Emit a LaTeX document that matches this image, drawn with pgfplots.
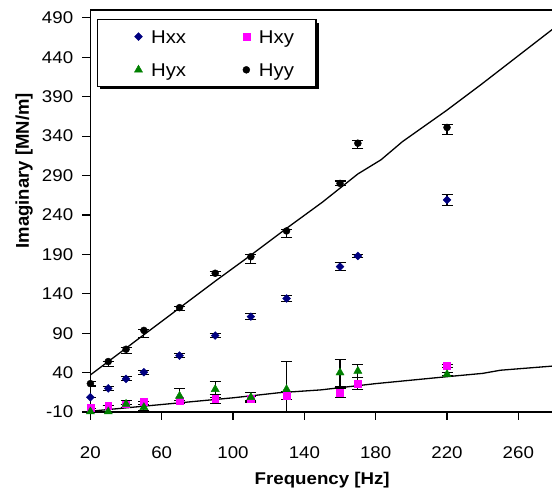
\documentclass[border=0pt]{standalone}
\usepackage{fontspec}
\setmainfont{Liberation Sans}[FakeStretch=1.1]
\newfontfamily\plainsans{Liberation Sans}
\usepackage{pgfplots}
\usepackage{pgfplotstable}
\pgfplotsset{compat=1.18}
\usetikzlibrary{shadows}
\definecolor{navyc}{RGB}{0,0,128}
\definecolor{magc}{RGB}{255,0,255}
\definecolor{greenc}{RGB}{0,128,0}

\pgfplotstableread{
x y ep em
20 8.7 0 0
30 20 2.5 2.5
40 32 2.5 2.5
50 40.5 2.5 2.5
70 61.5 2.5 2.5
90 87 2.5 2.5
110 111 3.8 3.8
130 134 4 4
160 174.5 5 5
170 188 1.5 1.5
220 259 6.7 6.7
}\hxx

\pgfplotstableread{
x y ep em
20 -5 0 0
30 -2 0 0
40 0 0 0
50 3 0 0
70 4.3 0 0
90 6.5 5.5 5.5
110 7 3 3
130 10.5 5 5
160 14.5 6 6
170 26.4 7.5 7.5
220 48.6 2 2
}\hxy

\pgfplotstableread{
x y ep em
20 -9.5 0 0
30 -9.5 0 0
40 0.2 4 4
50 -4 4 4
70 10.3 10 10
90 18.8 10 10
110 8.7 6.3 6.3
130 18.8 35 35
160 39.9 17 17
170 42 8.5 8.5
220 37.8 2 2
}\hyx

\pgfplotstableread{
x y ep em
20 26 3 3
30 54 0.5 6.3
40 69.6 2 5
50 93.5 1 8.5
70 122.4 2 4
90 166 2.5 2.5
110 187 3 8.4
130 219.7 2 8.5
160 280 3 3
170 331 3 7
220 351 4 8.5
}\hyy

\begin{document}
\begin{tikzpicture}
\path[use as bounding box] (-90.4pt,-83pt) rectangle (461.6pt,412pt);
\begin{axis}[
  scale only axis, width=463.6pt, height=402pt,
  xmin=20, xmax=280, ymin=-10, ymax=500,
  xtick={20,60,...,260}, ytick={-10,40,...,490},
  tick align=outside, major tick length=8pt,
  xtick pos=bottom, ytick pos=left,
  axis line style={line width=1.2pt, black},
  tick style={line width=1.2pt, black},
  /pgf/number format/assume math mode=true,
  ticklabel style={font=\fontsize{17}{20}\selectfont},
  yticklabel style={inner sep=0pt, xshift=-9pt},
  xticklabel style={inner sep=0pt, yshift=-26pt},
  xlabel={Frequency [Hz]}, ylabel={Imaginary [MN/m]},
  xlabel style={font=\bfseries\fontsize{17}{20}\selectfont, at={(axis description cs:0.5,-0.1692)}, anchor=center},
  ylabel style={font=\plainsans\bfseries\fontsize{18.5}{20}\selectfont, at={(axis description cs:-0.1432,0.6)}, anchor=center},
  legend columns=2,
  legend image code/.code={\path (-24.6pt,0pt); \path (6pt,0pt); \draw[#1] plot coordinates {(0pt,0pt)};},
  legend style={at={(axis description cs:0.0136,0.9769)}, anchor=north west,
    draw=black, line width=1.2pt, fill=white,
    drop shadow={shadow xshift=3pt, shadow yshift=-3pt, fill=black, opacity=1},
    inner xsep=16pt, inner ysep=8pt, row sep=16pt,
    font=\fontsize{18.5}{22}\selectfont,
    nodes={text height=13.3pt, text depth=0pt, inner ysep=2pt, inner xsep=6pt},
    /tikz/every even column/.append style={column sep=29pt}},
  error bars/error bar style={line width=1.1pt, black},
  error bars/error mark options={line width=1.1pt, black, mark size=5.5pt, rotate=90},
]
\addplot[only marks, mark=square*, mark size=2.8pt, mark options={rotate=45, fill=navyc, draw=navyc, line width=0.4pt},
  error bars/.cd, y dir=both, y explicit]
  table[x=x, y=y, y error plus=ep, y error minus=em]{\hxx};
\addlegendentry{Hxx}
\addplot[only marks, mark=square*, mark size=3.4pt, mark options={fill=magc, draw=magc, line width=0.4pt},
  error bars/.cd, y dir=both, y explicit]
  table[x=x, y=y, y error plus=ep, y error minus=em]{\hxy};
\addlegendentry{Hxy}
\addplot[only marks, mark=triangle*, mark size=4.7pt, mark options={fill=greenc, draw=greenc, line width=0.4pt},
  error bars/.cd, y dir=both, y explicit]
  table[x=x, y=y, y error plus=ep, y error minus=em]{\hyx};
\addlegendentry{Hyx}
\addplot[only marks, mark=*, mark size=3.5pt, mark options={fill=black, draw=black, line width=0.4pt},
  error bars/.cd, y dir=both, y explicit]
  table[x=x, y=y, y error plus=ep, y error minus=em]{\hyy};
\addlegendentry{Hyy}
\addplot[black, line width=1.3pt, forget plot] coordinates {
(20,37) (50,88) (70,122) (90,156) (110,189) (130,223) (150,256) (170,292) (183,310) (195,333) (205,349) (220,373) (240,407) (260,442) (280,477)};
\addplot[black, line width=1.3pt, forget plot] coordinates {
(20,-9) (60,-0.5) (100,8) (126,14.5) (149,18) (180,26) (220,34.8) (240,39) (250,43) (280,48.4)};
\end{axis}
\end{tikzpicture}
\end{document}
